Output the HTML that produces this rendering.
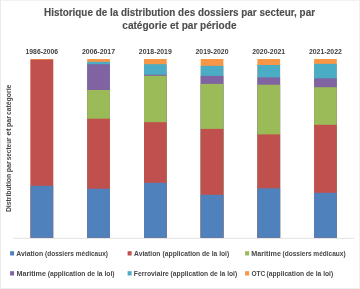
<!DOCTYPE html>
<html><head><meta charset="utf-8">
<style>
html,body{margin:0;padding:0;background:#fff;}
body{width:360px;height:289px;overflow:hidden;position:relative;}
svg{position:absolute;left:0;top:0;display:block;will-change:transform;}
text{font-family:"Liberation Sans",sans-serif;}
</style></head>
<body>
<svg width="360" height="289" viewBox="0 0 360 289">
  <rect x="0" y="0" width="360" height="289" fill="#fff"/>
  <rect x="0" y="0" width="360" height="1" fill="#f2f2f2"/>
  <rect x="0" y="288" width="360" height="1" fill="#eeeeee"/>
  <rect x="0" y="0" width="1" height="289" fill="#ebebeb"/>
  <rect x="359" y="0" width="1" height="289" fill="#eeeeee"/>
  <!-- title -->
  <g fill="#4d4d4d" font-weight="bold" font-size="10.1" stroke="#4d4d4d" stroke-width="0.12">
    <text x="44" y="15.6" textLength="271" lengthAdjust="spacingAndGlyphs">Historique de la distribution des dossiers par secteur, par</text>
    <text x="122.3" y="29.1" textLength="114.2" lengthAdjust="spacingAndGlyphs">catégorie et par période</text>
  </g>
  <!-- category labels -->
  <g fill="#404040" font-weight="bold" font-size="7" text-anchor="middle">
    <text x="41.8" y="53.8" textLength="32.5" lengthAdjust="spacingAndGlyphs">1986-2006</text>
    <text x="98.5" y="53.8" textLength="33" lengthAdjust="spacingAndGlyphs">2006-2017</text>
    <text x="155.3" y="53.8" textLength="33" lengthAdjust="spacingAndGlyphs">2018-2019</text>
    <text x="212" y="53.8" textLength="33" lengthAdjust="spacingAndGlyphs">2019-2020</text>
    <text x="268.7" y="53.8" textLength="33" lengthAdjust="spacingAndGlyphs">2020-2021</text>
    <text x="325.4" y="53.8" textLength="33" lengthAdjust="spacingAndGlyphs">2021-2022</text>
  </g>
  <!-- y axis title -->
  <g transform="translate(11.1,211.7) rotate(-90)" fill="#474747" font-size="7.3" font-weight="bold">
    <text x="-0.4" y="0" textLength="38.2" lengthAdjust="spacingAndGlyphs">Distribution</text>
    <text x="39.4" y="0" textLength="11.0" lengthAdjust="spacingAndGlyphs">par</text>
    <text x="51.4" y="0" textLength="22.9" lengthAdjust="spacingAndGlyphs">secteur</text>
    <text x="76.3" y="0" textLength="7.0" lengthAdjust="spacingAndGlyphs">et</text>
    <text x="84.6" y="0" textLength="11.0" lengthAdjust="spacingAndGlyphs">par</text>
    <text x="96.6" y="0" textLength="30.5" lengthAdjust="spacingAndGlyphs">catégorie</text>
  </g>
  <!-- axis line -->
  <rect x="13.5" y="237.8" width="340.3" height="1" fill="#e2e2e2"/>
  <!-- bars -->
  <g>
    <rect x="30.5" y="59" width="22.7" height="178.8" fill="#f79646"/>
    <rect x="30.5" y="59.6" width="22.7" height="178.2" fill="#c0504d"/>
    <rect x="30.5" y="185.8" width="22.7" height="52.0" fill="#4f81bd"/>
    <rect x="87.2" y="59" width="22.7" height="178.8" fill="#f79646"/>
    <rect x="87.2" y="61.8" width="22.7" height="176.0" fill="#4bacc6"/>
    <rect x="87.2" y="64.2" width="22.7" height="173.6" fill="#8064a2"/>
    <rect x="87.2" y="90" width="22.7" height="147.8" fill="#9bbb59"/>
    <rect x="87.2" y="118.7" width="22.7" height="119.1" fill="#c0504d"/>
    <rect x="87.2" y="188.7" width="22.7" height="49.1" fill="#4f81bd"/>
    <rect x="144.0" y="59" width="22.7" height="178.8" fill="#f79646"/>
    <rect x="144.0" y="64.2" width="22.7" height="173.6" fill="#4bacc6"/>
    <rect x="144.0" y="74.7" width="22.7" height="163.1" fill="#8064a2"/>
    <rect x="144.0" y="75.8" width="22.7" height="162.0" fill="#9bbb59"/>
    <rect x="144.0" y="122.2" width="22.7" height="115.6" fill="#c0504d"/>
    <rect x="144.0" y="182.8" width="22.7" height="55.0" fill="#4f81bd"/>
    <rect x="200.7" y="59" width="22.7" height="178.8" fill="#f79646"/>
    <rect x="200.7" y="65.8" width="22.7" height="172.0" fill="#4bacc6"/>
    <rect x="200.7" y="75.9" width="22.7" height="161.9" fill="#8064a2"/>
    <rect x="200.7" y="83.9" width="22.7" height="153.9" fill="#9bbb59"/>
    <rect x="200.7" y="128.9" width="22.7" height="108.9" fill="#c0504d"/>
    <rect x="200.7" y="194.8" width="22.7" height="43.0" fill="#4f81bd"/>
    <rect x="257.4" y="59" width="22.7" height="178.8" fill="#f79646"/>
    <rect x="257.4" y="65" width="22.7" height="172.8" fill="#4bacc6"/>
    <rect x="257.4" y="77.4" width="22.7" height="160.4" fill="#8064a2"/>
    <rect x="257.4" y="84.7" width="22.7" height="153.1" fill="#9bbb59"/>
    <rect x="257.4" y="134.4" width="22.7" height="103.4" fill="#c0504d"/>
    <rect x="257.4" y="188.3" width="22.7" height="49.5" fill="#4f81bd"/>
    <rect x="314.1" y="59" width="22.7" height="178.8" fill="#f79646"/>
    <rect x="314.1" y="63.9" width="22.7" height="173.9" fill="#4bacc6"/>
    <rect x="314.1" y="78.3" width="22.7" height="159.5" fill="#8064a2"/>
    <rect x="314.1" y="87.2" width="22.7" height="150.6" fill="#9bbb59"/>
    <rect x="314.1" y="124.8" width="22.7" height="113.0" fill="#c0504d"/>
    <rect x="314.1" y="192.8" width="22.7" height="45.0" fill="#4f81bd"/>
  </g>
  <!-- legend -->
  <g fill="#474747" font-size="7.9" font-weight="bold">
    <rect x="10.1" y="251.2" width="4" height="4.3" fill="#4f81bd" stroke="none"/>
    <text x="16.3" y="255.5" textLength="26.8" lengthAdjust="spacingAndGlyphs">Aviation</text>
    <text x="45.0" y="255.5" textLength="63.0" lengthAdjust="spacingAndGlyphs">(dossiers médicaux)</text>
    <rect x="127.6" y="251.2" width="4" height="4.3" fill="#c0504d" stroke="none"/>
    <text x="134.0" y="255.5" textLength="26.4" lengthAdjust="spacingAndGlyphs">Aviation</text>
    <text x="162.6" y="255.5" textLength="66.6" lengthAdjust="spacingAndGlyphs">(application de la loi)</text>
    <rect x="245.1" y="251.2" width="4" height="4.3" fill="#9bbb59" stroke="none"/>
    <text x="251.3" y="255.5" textLength="29.6" lengthAdjust="spacingAndGlyphs">Maritime</text>
    <text x="282.6" y="255.5" textLength="63.0" lengthAdjust="spacingAndGlyphs">(dossiers médicaux)</text>
    <rect x="10.1" y="271.2" width="4" height="4.3" fill="#8064a2" stroke="none"/>
    <text x="16.4" y="275.6" textLength="29.6" lengthAdjust="spacingAndGlyphs">Maritime</text>
    <text x="47.7" y="275.6" textLength="66.8" lengthAdjust="spacingAndGlyphs">(application de la loi)</text>
    <rect x="127.6" y="271.2" width="4" height="4.3" fill="#4bacc6" stroke="none"/>
    <text x="133.8" y="275.6" textLength="35.0" lengthAdjust="spacingAndGlyphs">Ferroviaire</text>
    <text x="170.6" y="275.6" textLength="66.6" lengthAdjust="spacingAndGlyphs">(application de la loi)</text>
    <rect x="245.1" y="271.2" width="4" height="4.3" fill="#f79646" stroke="none"/>
    <text x="251.4" y="275.6" textLength="13.9" lengthAdjust="spacingAndGlyphs">OTC</text>
    <text x="266.5" y="275.6" textLength="66.7" lengthAdjust="spacingAndGlyphs">(application de la loi)</text>
  </g>
</svg>
</body></html>
